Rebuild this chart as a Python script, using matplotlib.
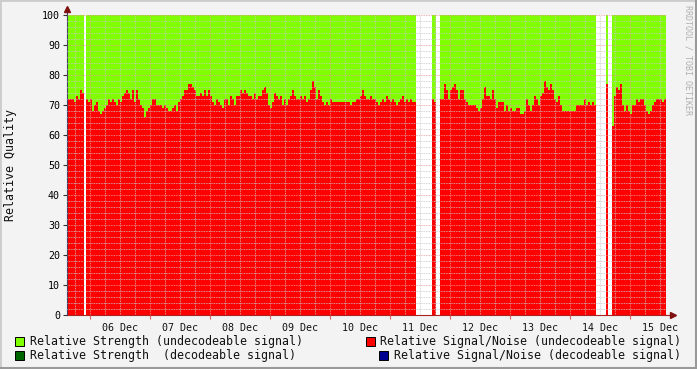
import datetime as dt
import numpy as np
import matplotlib
matplotlib.use("Agg")
import matplotlib.pyplot as plt
import matplotlib.dates as mdates
from matplotlib.patches import Rectangle

nan = np.nan

# relative signal/noise (undecodeable), one sample every 48 minutes
snr_values = [
    73, 72, 72, 72, 71, 73, 72, 75, 74, nan, 72, 71, 72, 68, 70, 71, 68, 67, 68, 69,
    70, 72, 71, 72, 71, 70, 72, 71, 73, 74, 75, 74, 72, 75, 71, 75, 72, 70, 69, 66,
    68, 69, 70, 72, 72, 70, 70, 70, 69, 70, 69, 68, 68, 69, 70, 68, 71, 72, 73, 75,
    75, 77, 77, 76, 75, 73, 73, 74, 73, 75, 73, 75, 73, 71, 70,
    72, 71, 70, 69, 72, 72, 70, 73, 72, 70, 73, 73, 75, 74, 75, 74, 73, 73, 72, 74,
    72, 73, 73, 75, 76, 74, 70, 69, 71, 74, 73, 72, 73, 70, 72, 70, 72, 73, 75, 73,
    72, 72, 73, 72, 73, 71, 72, 75, 78, 76, 72, 75, 73, 71, 70, 71, 70, 72, 71, 71,
    71, 71, 71, 71, 71, 71, 71, 70, 71, 71, 72, 72, 73, 75, 73,
    72, 72, 73, 72, 72, 71, 70, 71, 72, 71, 73, 72, 71, 72, 71, 70, 71, 72, 73, 71,
    72, 71, 72, 71, 71, nan, nan, nan, nan, nan, nan, nan, nan, 72, 71, nan, nan, 72,
    72, 77, 75, 72, 75, 76, 77, 75, 72, 75, 75, 72, 71, 70, 70, 70, 70, 69, 68, 69,
    72, 76, 73, 73, 72, 75, 72, 69, 71, 71, 71, 68, 70, 68, 69, 68, 68,
    69, 69, 67, 67, 68, 72, 70, 68, 70, 73, 72, 70, 73, 74, 78, 76, 75, 77, 75, 72,
    71, 73, 70, 68, 68, 68, 68, 68, 68, 68, 70, 70, 70, 70, 72, 70, 71, 70, 71, 70,
    nan, nan, nan, nan, nan, 77, nan, nan, 63, 73, 76, 75, 77, 70, 68, 70, 68, 67, 70, 70,
    72, 71, 72, 72, 70, 68, 67, 68, 70, 71, 72, 72, 72, 71, 72,
]
start_time = dt.datetime(2008, 12, 5, 14, 24)
step = dt.timedelta(minutes=48)

legend_left = ["Relative Strength (undecodeable signal)",
               "Relative Strength  (decodeable signal)"]
legend_right = ["Relative Signal/Noise (undecodeable signal)",
                "Relative Signal/Noise (decodeable signal)"]
green = "#80ff00"
red = "#ff0000"
dark_green = "#006400"
dark_blue = "#000090"

plt.rcParams["font.family"] = "DejaVu Sans Mono"

fig = plt.figure(figsize=(6.97, 3.69), dpi=100, facecolor="#f3f3f3")
W, H = 697, 369
ax = fig.add_axes([67 / W, 1 - 315 / H, (666 - 67) / W, 300 / H])
ax.set_facecolor("white")

vals = np.array(snr_values, dtype=float)
edges = [start_time + i * step for i in range(len(vals) + 1)]
edges = mdates.date2num(edges)

# draw each contiguous stretch of data as a stepped area
i = 0
n = len(vals)
while i < n:
    if np.isnan(vals[i]):
        i += 1
        continue
    j = i
    while j < n and not np.isnan(vals[j]):
        j += 1
    xs = edges[i:j + 1]
    ys = np.append(vals[i:j], vals[j - 1])
    ax.fill_between(xs, 0, ys, step="post", color=red, linewidth=0, antialiased=False)
    ax.fill_between(xs, ys, 100, step="post", color=green, linewidth=0, antialiased=False)
    i = j

ax.set_axisbelow(False)
days = [dt.datetime(2008, 12, d) for d in range(6, 16)]
ax.set_xticks(mdates.date2num(days))
ax.set_xticks(mdates.date2num([dt.datetime(2008, 12, 5, 18)] +
                              [d + dt.timedelta(hours=h) for d in days for h in (6, 12, 18)]),
              minor=True)
ax.set_yticks(np.arange(0, 101, 10))
ax.set_yticks(np.arange(0, 101, 2), minor=True)

# limits set after the ticks so they are not widened
x0 = mdates.date2num(dt.datetime(2008, 12, 6)) - 23 / 60
x1 = mdates.date2num(dt.datetime(2008, 12, 6)) + 576 / 60
ax.set_xlim(x0, x1)
ax.set_ylim(0, 100)

ax.grid(which="minor", color="#c8c8c8", linestyle=(0, (1, 1)), linewidth=0.6)
ax.grid(which="major", color="#e89a9a", linestyle=(0, (1, 1)), linewidth=0.6)
ax.tick_params(axis="x", which="major", length=3, color="#e06060", labelbottom=False)
ax.tick_params(axis="x", which="minor", length=0)
ax.tick_params(axis="y", which="major", length=3, pad=2, labelsize=7.2, color="#333333")
ax.tick_params(axis="y", which="minor", length=0)

for d in days:
    ax.text(mdates.date2num(d + dt.timedelta(hours=12)), -0.028, d.strftime("%d %b"),
            transform=ax.get_xaxis_transform(), ha="center", va="top", fontsize=7.2,
            color="#111111")

for s in ("top", "right"):
    ax.spines[s].set_visible(False)
ax.spines["left"].set_color("#444466")
ax.spines["bottom"].set_color("#aa2222")
ax.spines["left"].set_linewidth(0.8)
ax.spines["bottom"].set_linewidth(0.8)

# axis arrows
ax.plot([1.0, 1.01], [0, 0], transform=ax.transAxes, color="#aa2222", lw=0.8, clip_on=False)
ax.plot([1.012], [0], marker=">", ms=4, color="#801010", transform=ax.transAxes, clip_on=False)
ax.plot([0, 0], [1.0, 1.015], transform=ax.transAxes, color="#444466", lw=0.8, clip_on=False)
ax.plot([0], [1.02], marker="^", ms=4, color="#801010", transform=ax.transAxes, clip_on=False)

fig.text(11 / W, 1 - 165 / H, "Relative Quality", rotation=90, ha="center", va="center",
         fontsize=8.4, color="#111111")
fig.text(688 / W, 1 - 60 / H, "RRDTOOL / TOBI OETIKER", rotation=270, ha="center",
         va="center", fontsize=6, color="#b0b0b0")

# legend
def legend_box(x, y, color):
    fig.patches.append(Rectangle((x / W, 1 - (y + 4.5) / H), 9 / W, 9 / H, facecolor=color,
                                 edgecolor="black", linewidth=0.7, transform=fig.transFigure))

legend_box(15, 341, green)
fig.text(30 / W, 1 - 341 / H, legend_left[0], va="center", fontsize=8.4, color="#111111")
legend_box(15, 355, dark_green)
fig.text(30 / W, 1 - 355 / H, legend_left[1], va="center", fontsize=8.4, color="#111111")
legend_box(366, 341, red)
fig.text(681 / W, 1 - 341 / H, legend_right[0], va="center", ha="right", fontsize=8.4,
         color="#111111")
legend_box(379, 355, dark_blue)
fig.text(681 / W, 1 - 355 / H, legend_right[1], va="center", ha="right", fontsize=8.4,
         color="#111111")

# frame around the picture
fig.patches.append(Rectangle((0, 0), 1, 1, fill=False, edgecolor="#cccccc", linewidth=2,
                             transform=fig.transFigure))
fig.lines.append(plt.Line2D([1 - 1.5 / W, 1 - 1.5 / W], [0, 1], color="#999999", lw=2.2,
                            transform=fig.transFigure))
fig.lines.append(plt.Line2D([0, 1], [1.5 / H, 1.5 / H], color="#999999", lw=2.2,
                            transform=fig.transFigure))

fig.savefig("out.png", dpi=100, facecolor=fig.get_facecolor())
